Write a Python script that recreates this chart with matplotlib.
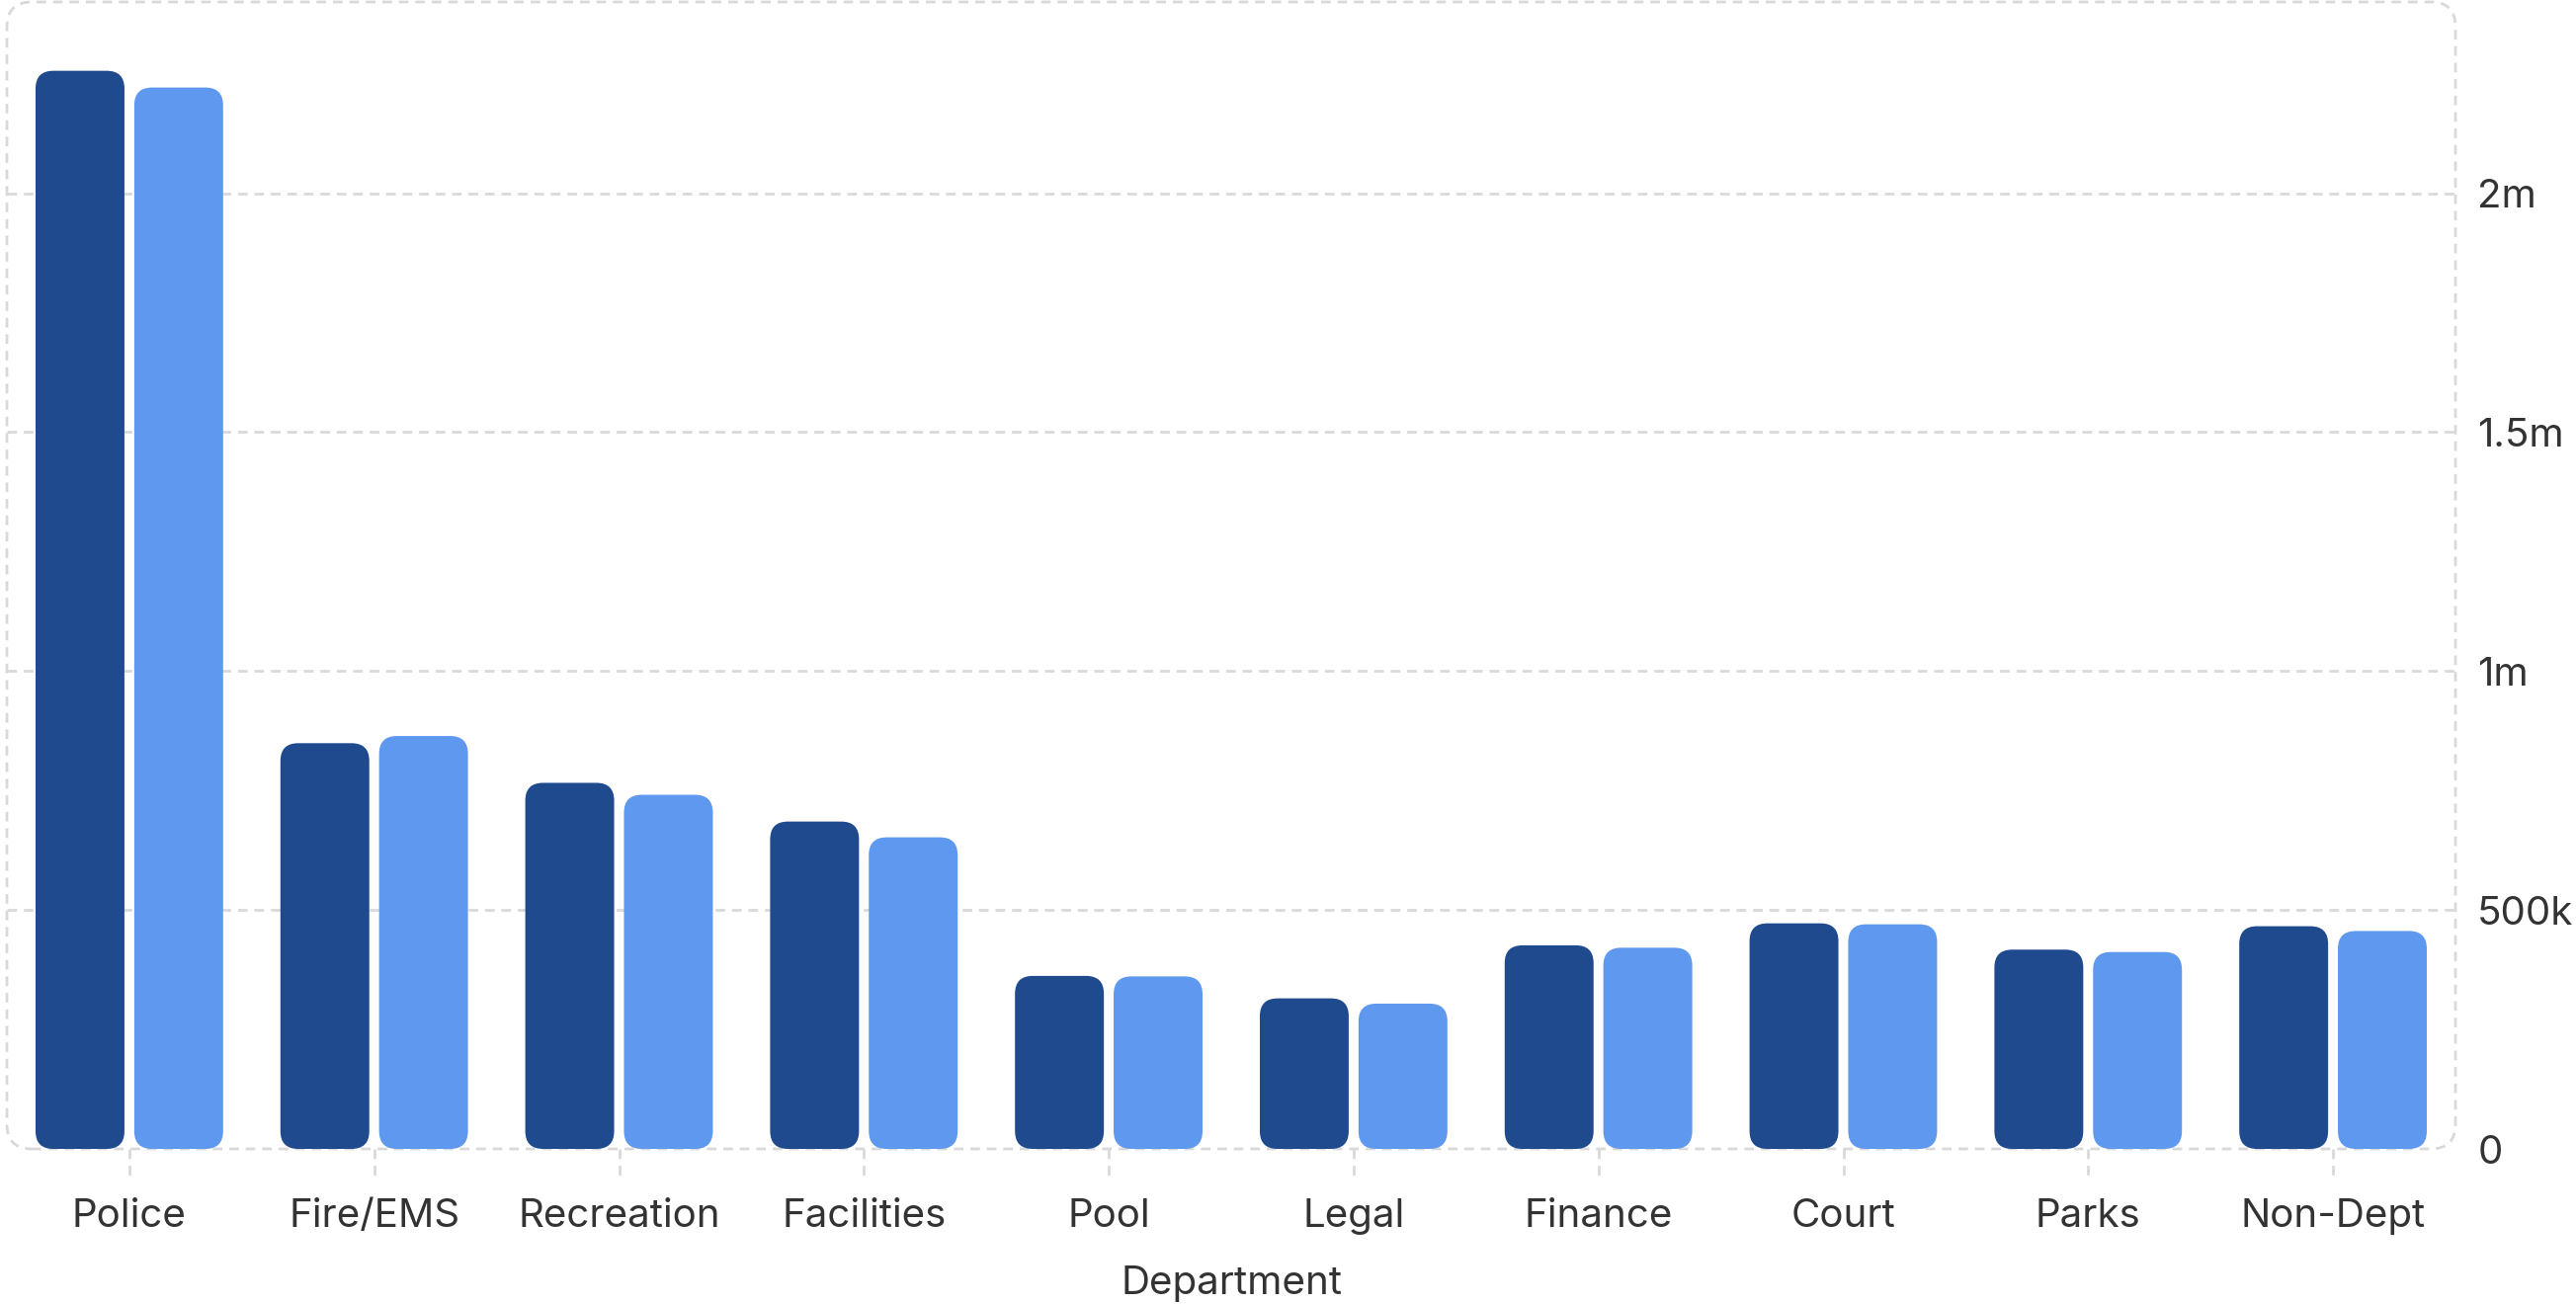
import numpy as np
import matplotlib.pyplot as plt
from matplotlib.patches import FancyBboxPatch
from matplotlib.ticker import FuncFormatter
import matplotlib.transforms as mtransforms

plt.rcParams['font.family'] = ['Inter', 'DejaVu Sans']

departments = ['Police', 'Fire/EMS', 'Recreation', 'Facilities', 'Pool',
               'Legal', 'Finance', 'Court', 'Parks', 'Non-Dept']
series_a = [2256000, 849000, 766000, 685000, 362000,
            315000, 426000, 472000, 417000, 466000]
series_b = [2221000, 864000, 741000, 652000, 361000,
            304000, 421000, 470000, 412000, 456000]
y_ticks = [0, 500000, 1000000, 1500000, 2000000]

dark = '#1f4b8e'
light = '#5f98ef'
grid_c = '#d9d9d9'
text_c = '#333333'

W, H = 2607, 1320
fig = plt.figure(figsize=(W / 100, H / 100), dpi=100)
ax_l, ax_r, ax_t, ax_b = 7, 2485, 2, 1163
ax = fig.add_axes([ax_l / W, 1 - ax_b / H, (ax_r - ax_l) / W, (ax_b - ax_t) / H])
ax.set_xlim(-0.5, len(departments) - 0.5)
ax.set_ylim(0, 2.4e6)

x = np.arange(len(departments))
bw = 0.363
off = bw / 2 + 0.02

# pixel sizes of one data unit, for circular corners
p0 = ax.transData.transform((0, 0))
p1 = ax.transData.transform((1, 1e6))
px_x = p1[0] - p0[0]
px_y = (p1[1] - p0[1]) / 1e6
aspect = (1 / px_y) / (1 / px_x)
r = 18 / px_x

for vals, dx, col in [(series_a, -off, dark), (series_b, off, light)]:
    bars = ax.bar(x + dx, vals, width=bw, color=col)
    for b in bars:
        bx, by, w, h = b.get_x(), b.get_y(), b.get_width(), b.get_height()
        b.remove()
        ax.add_patch(FancyBboxPatch((bx, by), w, h,
                                    boxstyle=f'round,pad=0,rounding_size={r}',
                                    mutation_aspect=aspect, fc=col, ec='none',
                                    zorder=3))

dash = (0, (3.5, 2.5))
for yv in y_ticks[1:]:
    ax.axhline(yv, color=grid_c, lw=2, ls=dash, zorder=1)

# dashed rounded frame
axw = ax_r - ax_l
axh = ax_b - ax_t
frame = FancyBboxPatch((0, 0), 1, 1,
                       boxstyle=f'round,pad=0,rounding_size={25 / axw}',
                       mutation_aspect=axw / axh, transform=ax.transAxes,
                       fc='none', ec=grid_c, lw=2, ls=dash, clip_on=False,
                       zorder=2)
ax.add_patch(frame)

# dashed x ticks
trans = mtransforms.blended_transform_factory(ax.transData, ax.transAxes)
for xi in x:
    ax.plot([xi, xi], [0, -28 / axh], color=grid_c, lw=2, ls=dash,
            transform=trans, clip_on=False)

for s in ax.spines.values():
    s.set_visible(False)

ax.set_xticks(x)
ax.set_xticklabels(departments)
ax.yaxis.tick_right()
ax.set_yticks(y_ticks)
ax.yaxis.set_major_formatter(FuncFormatter(
    lambda v, p: '0' if v == 0 else (f'{v / 1e6:g}m' if v >= 1e6 else f'{v / 1e3:g}k')))
ax.tick_params(axis='x', length=0, pad=36, labelsize=29, labelcolor=text_c)
ax.tick_params(axis='y', length=0, pad=16, labelsize=29, labelcolor=text_c)
ax.set_xlabel('Department', fontsize=29, color=text_c, labelpad=22)

fig.savefig('out.png', dpi=100, facecolor='white')
